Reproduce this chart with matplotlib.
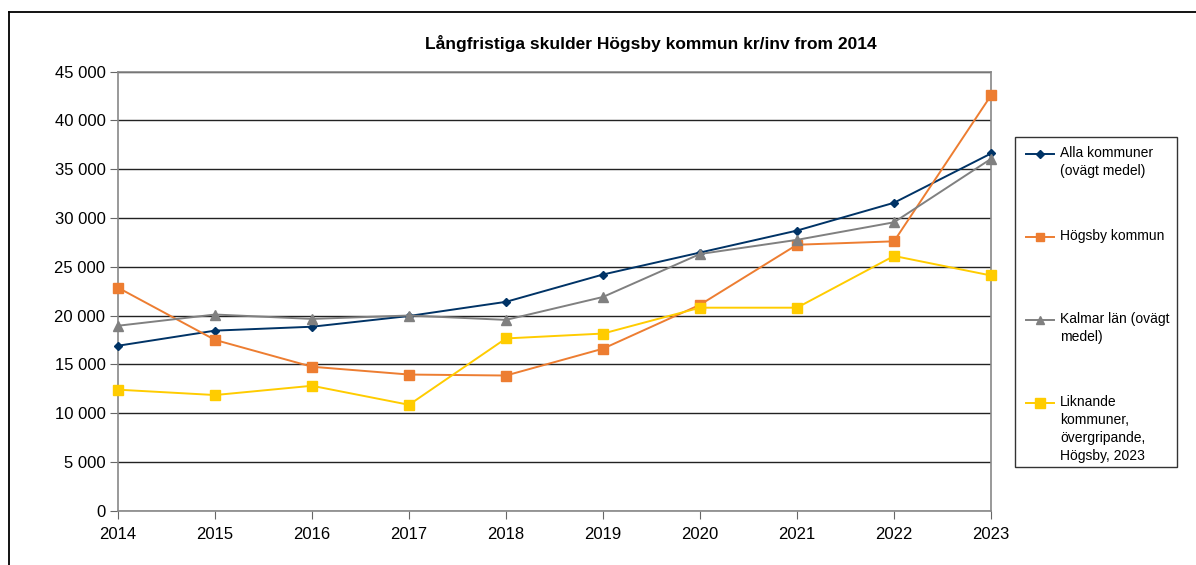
import matplotlib
matplotlib.use("Agg")
import matplotlib.pyplot as plt
from matplotlib.lines import Line2D
from matplotlib.patches import Rectangle
from matplotlib.ticker import FuncFormatter, MultipleLocator

plt.rcParams["font.family"] = ["Liberation Sans", "DejaVu Sans"]

years = [2014, 2015, 2016, 2017, 2018, 2019, 2020, 2021, 2022, 2023]
alla = [16900, 18450, 18850, 19950, 21400, 24200, 26450, 28700, 31550, 36600]
hogsby = [22850, 17500, 14750, 13950, 13850, 16600, 21100, 27250, 27600, 42550]
kalmar = [18950, 20100, 19650, 20000, 19550, 21900, 26300, 27750, 29550, 36050]
liknande = [12400, 11850, 12800, 10850, 17650, 18150, 20800, 20800, 26100, 24100]

labels = ["Alla kommuner\n(ovägt medel)", "Högsby kommun",
          "Kalmar län (ovägt\nmedel)", "Liknande\nkommuner,\növergripande,\nHögsby, 2023"]
series = [alla, hogsby, kalmar, liknande]
colors = ["#003366", "#ED7D31", "#808080", "#FFCC00"]
markers = ["D", "s", "^", "s"]
msizes = [4.5, 6.5, 6.5, 7.5]

fig = plt.figure(figsize=(11.96, 5.65), dpi=100)
W, H = 1196, 565

# outer frame (open on right/bottom as in the screenshot)
fig.add_artist(Line2D([9 / W, 9 / W], [0, 1 - 12 / H], color="black", lw=1.3,
                      transform=fig.transFigure))
fig.add_artist(Line2D([9 / W, 1], [1 - 12 / H, 1 - 12 / H], color="black", lw=1.3,
                      transform=fig.transFigure))

ax = fig.add_axes([118 / W, 1 - 510.7 / H, (991 - 118) / W, (510.7 - 71.5) / H])
for s, c, m, ms in zip(series, colors, markers, msizes):
    ax.plot(years, s, color=c, marker=m, ms=ms, lw=1.4, zorder=3, clip_on=False)

ax.set_xlim(2014, 2023)
ax.set_ylim(0, 45000)
ax.xaxis.set_major_locator(MultipleLocator(1))
ax.yaxis.set_major_locator(MultipleLocator(5000))
ax.yaxis.set_major_formatter(FuncFormatter(lambda v, p: f"{int(v):,}".replace(",", " ")))
ax.grid(axis="y", color="#222222", lw=1.0, zorder=1)
for sp in ax.spines.values():
    sp.set_color("#888888")
    sp.set_linewidth(1.2)
ax.tick_params(axis="both", direction="out", length=6, color="#666666",
               labelsize=12, pad=3)
ax.tick_params(axis="x", pad=6)

fig.text(651 / W, 1 - 44 / H, "Långfristiga skulder Högsby kommun kr/inv from 2014",
         ha="center", va="center", fontsize=12.5, fontweight="bold")

# legend box
fig.add_artist(Rectangle((1015 / W, 1 - 467 / H), (1177 - 1015) / W, (467 - 137) / H,
                         transform=fig.transFigure, fill=False, ec="#333333", lw=1.0))
ys = [154, 237, 320, 403]
for yy, lab, c, m, ms in zip(ys, labels, colors, markers, msizes):
    fy = 1 - yy / H
    fig.add_artist(Line2D([1026 / W, 1054 / W], [fy, fy], color=c, lw=1.4,
                          transform=fig.transFigure))
    fig.add_artist(Line2D([1040 / W], [fy], color=c, marker=m, ms=ms * 0.9,
                          transform=fig.transFigure))
    fig.text(1060 / W, 1 - (yy - 8) / H, lab, ha="left", va="top", fontsize=10,
             linespacing=1.35)

fig.savefig("out.png", dpi=100)
